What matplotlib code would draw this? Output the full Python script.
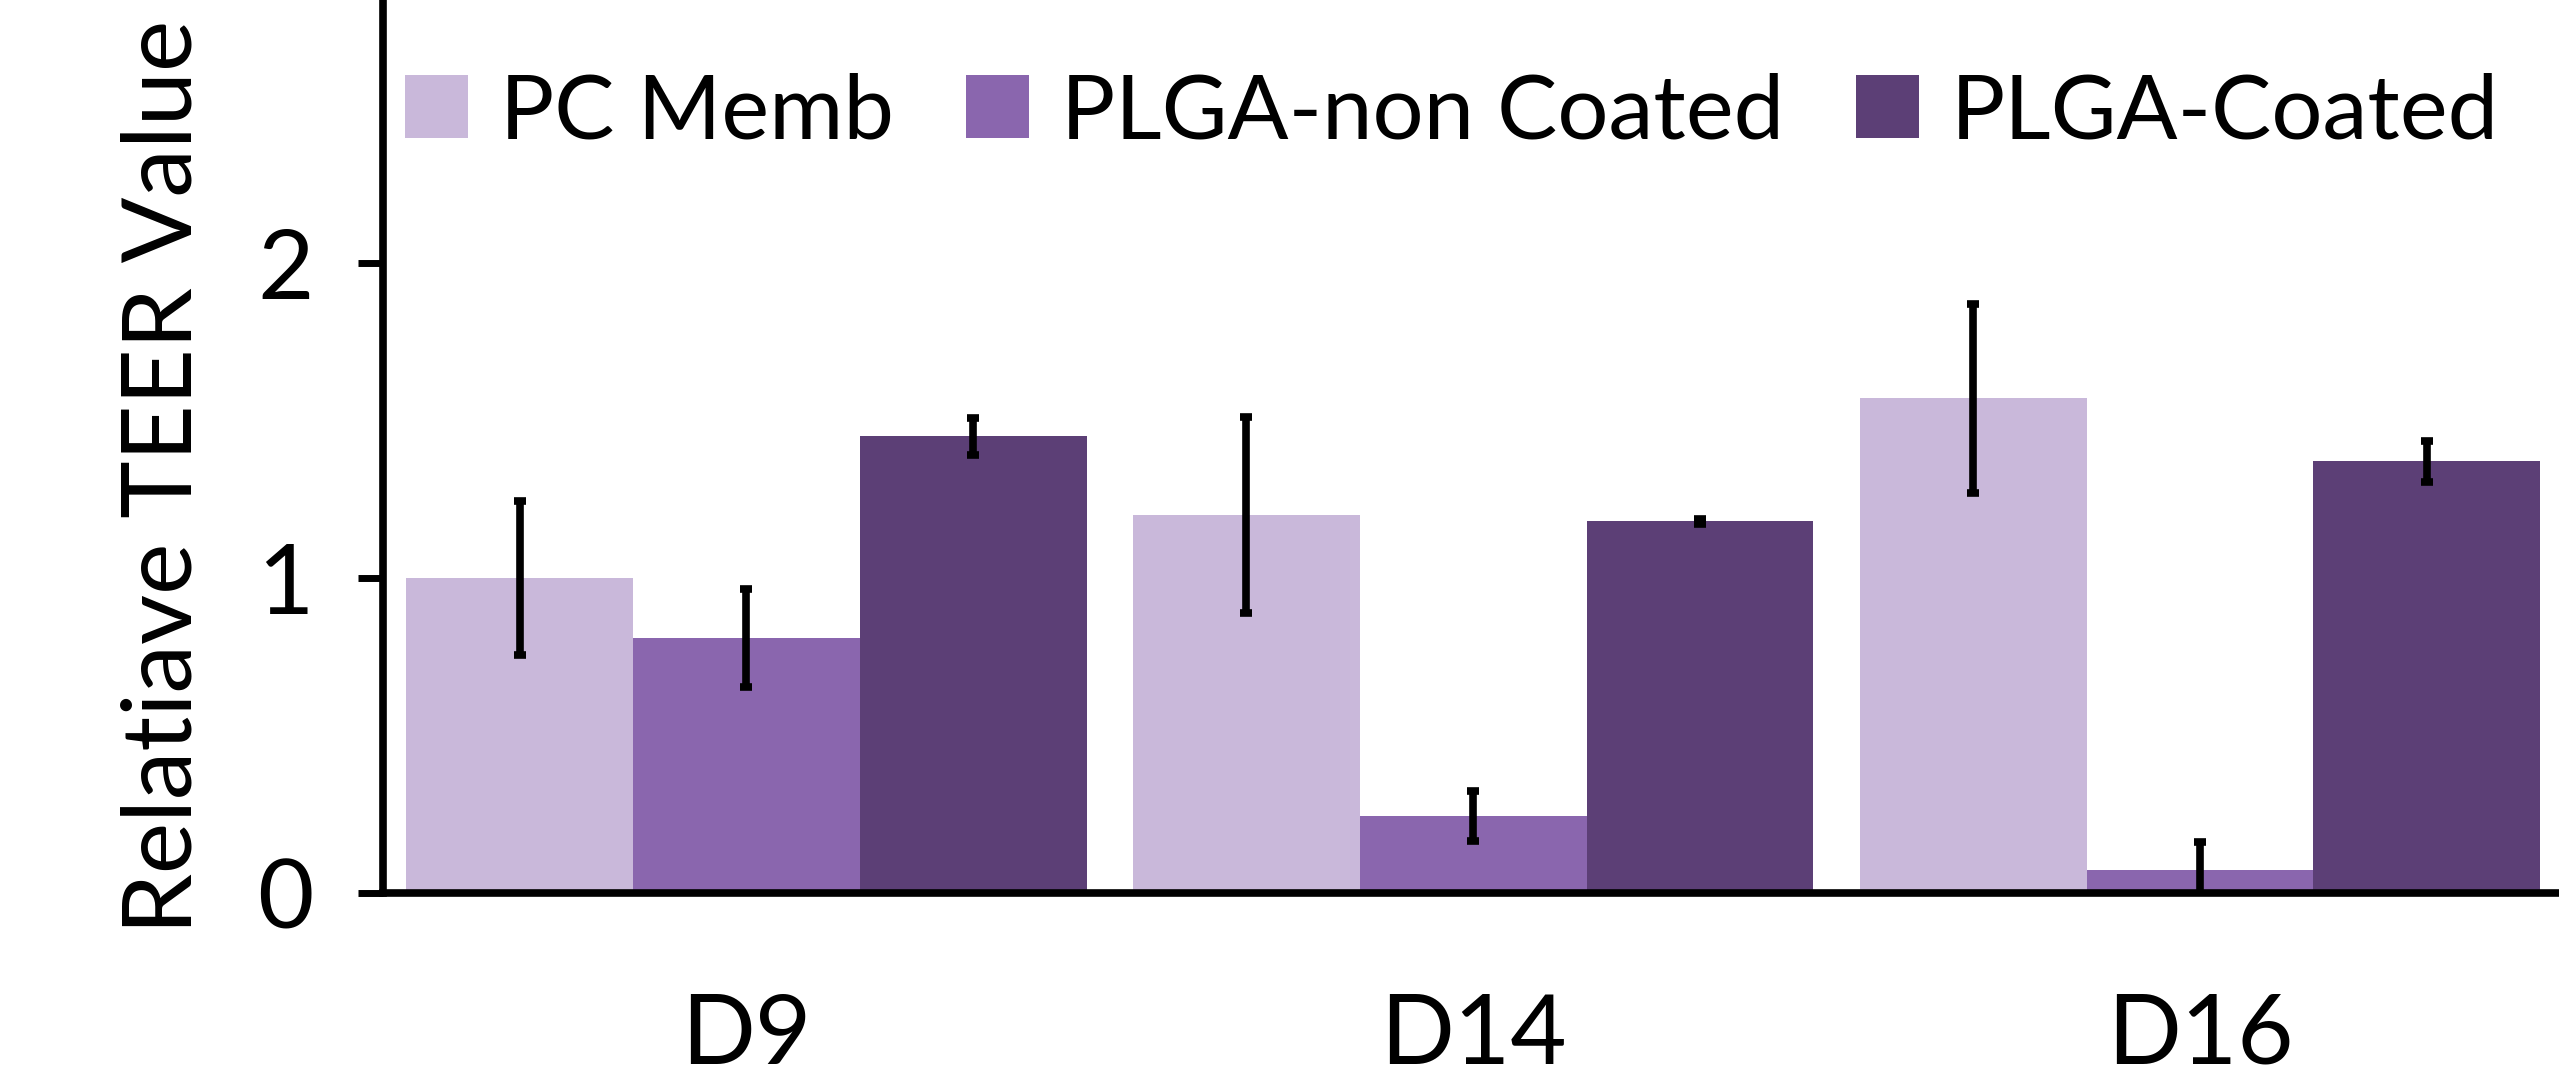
import matplotlib
matplotlib.use("Agg")
import matplotlib.pyplot as plt
import numpy as np

days = ["D9", "D14", "D16"]
series = ["PC Memb", "PLGA-non Coated", "PLGA-Coated"]
pc_memb = [1.00, 1.20, 1.57]
pc_memb_err = [0.245, 0.31, 0.30]
non_coated = [0.81, 0.245, 0.073]
non_coated_err = [0.155, 0.08, 0.09]
coated = [1.45, 1.18, 1.37]
coated_err = [0.058, 0.008, 0.066]

colors = ["#C9B8DA", "#8A66AE", "#5C3F76"]

plt.rcParams["font.family"] = ["Lato", "DejaVu Sans"]

W, H = 2559, 1078
fig = plt.figure(figsize=(W / 100, H / 100), dpi=100)
# axis origin at (383, 893) px, top of plot runs off the top of the picture
ax = fig.add_axes([383 / W, (H - 893) / H, 2184 / W, 893 / H])

x = np.arange(len(days))
width = 0.312
values = [pc_memb, non_coated, coated]
errors = [pc_memb_err, non_coated_err, coated_err]
for i, (vals, errs, name, c) in enumerate(zip(values, errors, series, colors)):
    ax.bar(x + (i - 1) * width, vals, width, color=c, label=name,
           yerr=errs, error_kw=dict(ecolor="black", elinewidth=5.5, capsize=4.5, capthick=5.5))

ax.set_xlim(-0.5, 2.505)
ax.set_ylim(0, 2.835)
ax.set_yticks([0, 1, 2])
ax.set_xticks(x)
ax.set_xticklabels(days)
for side in ["top", "right"]:
    ax.spines[side].set_visible(False)
for side in ["left", "bottom"]:
    ax.spines[side].set_linewidth(5.5)
ax.tick_params(axis="y", length=18, width=5, labelsize=70, pad=32)
ax.tick_params(axis="x", length=0, labelsize=70, pad=72)
ax.set_ylabel("Relatiave TEER Value", fontsize=70)
ax.yaxis.set_label_coords(-0.08, 0.466)

ax.legend(loc="upper left", bbox_to_anchor=(405 / W, 1 - 72 / H), bbox_transform=fig.transFigure,
          ncol=3, frameon=False, fontsize=65, handlelength=0.7, handleheight=0.7,
          handletextpad=0.35, columnspacing=0.8, borderaxespad=0, borderpad=0)

fig.savefig("out.png", dpi=100)
